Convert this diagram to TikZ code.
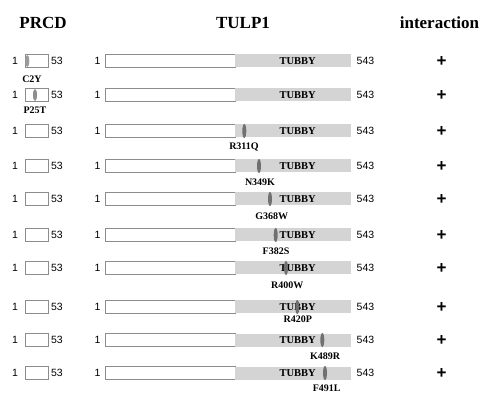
\documentclass[tikz,border=0pt]{standalone}
\usepackage{fontspec}
\setmainfont{Liberation Serif}
\newfontfamily\numfont{Liberation Sans}
\usetikzlibrary{shapes.geometric}
\definecolor{tub}{HTML}{D4D4D4}
\definecolor{mk}{HTML}{707070}
\definecolor{edge}{HTML}{8C8C8C}
\tikzset{
  hdr/.style={font=\bfseries\fontsize{17}{20}\selectfont, inner sep=0},
  num/.style={font=\numfont\fontsize{10.5}{12}\selectfont, inner sep=0},
  prcdbox/.style={draw=edge, fill=white, minimum width=23.5pt, minimum height=12.5pt, inner sep=0, line width=0.6pt},
  whitebar/.style={draw=edge, fill=white, minimum width=130pt, minimum height=13pt, inner sep=0, line width=0.6pt},
  tubbybar/.style={fill=tub, minimum width=115.7pt, minimum height=13pt, inner sep=0},
  tubtext/.style={font=\bfseries\fontsize{10.5}{12}\selectfont, inner sep=0},
  mutmark/.style={ellipse, fill=mk, minimum width=4pt, minimum height=14pt, inner sep=0},
  mutlabel/.style={font=\bfseries\fontsize{10}{12}\selectfont, inner sep=0},
  plussign/.style={font=\numfont\bfseries\fontsize{17}{19}\selectfont, inner sep=0}
}
\begin{document}
\begin{tikzpicture}[x=1pt,y=-1pt]
\useasboundingbox (0,0) rectangle (480,393);
\node[hdr] (hP) at (43,23) {PRCD};
\node[hdr] (hT) at (243,23) {TULP1};
\node[hdr] (hI) at (439.5,23) {interaction};
\foreach \i/\y in {1/61,2/95,3/131,4/166,5/199,6/235,7/268,8/307,9/340,10/373}{
  \node[num] (pa\i) at (15,\y) {1};
  \node[prcdbox] (p\i) at (36.7,\y) {};
  \node[num] (pb\i) at (57,\y) {53};
  \node[num] (ta\i) at (97.5,\y) {1};
  \node[whitebar] (w\i) at (170.3,\y) {};
  \node[tubbybar] (g\i) at (293.15,\y) {};
  \node[tubtext] (tt\i) at (297.7,\y) {TUBBY};
  \node[num] (tb\i) at (365.5,\y) {543};
  \node[plussign] (pl\i) at (441.7,\y+0.5) {+};
}
% PRCD mutations
\node[mutmark, fill=mk!70, minimum height=12pt] (m1) at (27.3,61) {};
\node[mutlabel] (l1) at (32,79) {C2Y};
\node[mutmark, fill=mk!80, minimum height=12pt] (m2) at (35,95) {};
\node[mutlabel] (l2) at (35,110) {P25T};
% TULP1 mutations
\foreach \i/\y/\x/\lx/\ly/\txt in {
  3/131/244.3/244/147.3/R311Q,
  4/166/259/260/182/N349K,
  5/199/270/271.7/216/G368W,
  6/235/275.7/276/251.7/F382S,
  7/268/286/287.3/285/R400W,
  8/307/297.3/297.7/319/R420P,
  9/340/322.3/325/356.7/K489R,
  10/373/325/326.7/388.5/F491L}{
  \node[mutmark] (m\i) at (\x,\y) {};
  \node[mutlabel] (l\i) at (\lx,\ly) {\txt};
}
\end{tikzpicture}
\end{document}
